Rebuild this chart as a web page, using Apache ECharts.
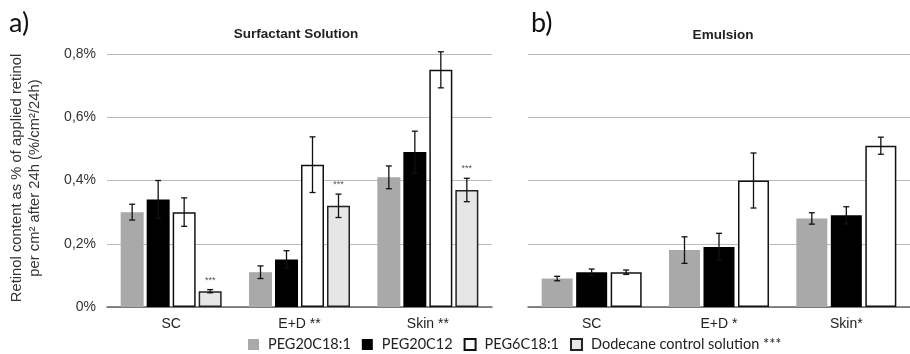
<!DOCTYPE html>
<html><head><meta charset="utf-8">
<script src="https://cdn.jsdelivr.net/npm/echarts@6/dist/echarts.min.js"></script>
<style>html,body{margin:0;padding:0;background:#fff}#chart{width:910px;height:354px}</style>
</head><body><div id="chart"></div>
<script>
// Categories for each panel
const solutionCategories = ['SC', 'E+D **', 'Skin **'];
const emulsionCategories = ['SC', 'E+D *', 'Skin*'];
const seriesNames = ['PEG20C18:1', 'PEG20C12', 'PEG6C18:1', 'Dodecane control solution ***'];

// a) Surfactant solution: retinol %/cm²/24h, mean and error
const solPEG20C181 = [0.30, 0.11, 0.41];
const solPEG20C181Err = [0.025, 0.02, 0.036];
const solPEG20C12 = [0.34, 0.15, 0.49];
const solPEG20C12Err = [0.06, 0.028, 0.066];
const solPEG6C181 = [0.30, 0.45, 0.75];
const solPEG6C181Err = [0.045, 0.088, 0.057];
const solDodecane = [0.05, 0.32, 0.37];
const solDodecaneErr = [0.005, 0.037, 0.037];
const solDodecaneSig = ['***', '***', '***'];

// b) Emulsion
const emuPEG20C181 = [0.09, 0.18, 0.28];
const emuPEG20C181Err = [0.007, 0.042, 0.018];
const emuPEG20C12 = [0.11, 0.19, 0.29];
const emuPEG20C12Err = [0.01, 0.043, 0.027];
const emuPEG6C181 = [0.11, 0.40, 0.51];
const emuPEG6C181Err = [0.007, 0.087, 0.027];

// Y tick labels (decimal comma)
const yTickLabels = ['0%', '0,2%', '0,4%', '0,6%', '0,8%'];

const styles = [
  { color: '#a9a9a9' },
  { color: '#000000' },
  { color: '#ffffff', borderColor: '#111', borderWidth: 1.5 },
  { color: '#e6e6e6', borderColor: '#222', borderWidth: 1.5 }
];

const LEFT_BAR = 23, LEFT_GAP = 3;
const RIGHT_BAR = 31, RIGHT_GAP = 3.5;

function barSeries(name, data, idx, grid, bw, gap) {
  return {
    name, type: 'bar', xAxisIndex: grid, yAxisIndex: grid, data,
    barWidth: bw, barGap: (gap / bw * 100) + '%',
    itemStyle: styles[idx], emphasis: { disabled: true }
  };
}

// Error whiskers drawn over the matching bar slot in each group
function errorBars(grid, values, errs, slot, count, bw, gap, marks) {
  return {
    type: 'custom', xAxisIndex: grid, yAxisIndex: grid, z: 10, silent: true,
    encode: { x: 0, y: [1, 2] },
    data: values.map((v, i) => [i, v - errs[i], v + errs[i]]),
    renderItem(params, api) {
      const i = api.value(0);
      const lo = api.coord([i, api.value(1)]);
      const hi = api.coord([i, api.value(2)]);
      const groupW = count * bw + (count - 1) * gap;
      const x = lo[0] - groupW / 2 + slot * (bw + gap) + bw / 2;
      const cap = 3;
      const st = { stroke: '#111', lineWidth: 1.3 };
      const children = [
        { type: 'line', shape: { x1: x, y1: lo[1], x2: x, y2: hi[1] }, style: st },
        { type: 'line', shape: { x1: x - cap, y1: lo[1], x2: x + cap, y2: lo[1] }, style: st },
        { type: 'line', shape: { x1: x - cap, y1: hi[1], x2: x + cap, y2: hi[1] }, style: st }
      ];
      if (marks) {
        children.push({ type: 'text', x: x, y: hi[1] - 5,
          style: { text: marks[i], align: 'center', verticalAlign: 'bottom', fill: '#555', fontSize: 9, fontFamily: 'Liberation Sans' } });
      }
      return { type: 'group', children };
    }
  };
}

function xAxis(grid, cats) {
  return {
    type: 'category', gridIndex: grid, data: cats,
    axisTick: { show: false },
    axisLine: { lineStyle: { color: '#666', width: 1.5 } },
    axisLabel: { color: '#222', fontSize: 14, fontFamily: 'Liberation Sans', margin: 10 }
  };
}
function yAxis(grid, showLabels) {
  return {
    type: 'value', gridIndex: grid, min: 0, max: 0.8, interval: 0.2,
    axisLine: { show: false }, axisTick: { show: false },
    splitLine: { lineStyle: { color: '#bbb', width: 1.2 } },
    axisLabel: {
      show: showLabels, color: '#333', fontSize: 14, fontFamily: 'Liberation Sans', margin: 11,
      formatter: v => yTickLabels[Math.round(v / 0.2)]
    }
  };
}

const chart = echarts.init(document.getElementById('chart'), null, { renderer: 'canvas' });
chart.setOption({
  animation: false,
  backgroundColor: '#fff',
  grid: [
    { left: 107, top: 54, width: 385, height: 253 },
    { left: 528, top: 54, width: 382, height: 253 }
  ],
  xAxis: [xAxis(0, solutionCategories), xAxis(1, emulsionCategories)],
  yAxis: [yAxis(0, true), yAxis(1, false)],
  legend: {
    data: seriesNames, left: 248, top: 337, padding: 0, itemWidth: 11, itemHeight: 11, itemGap: 11,
    icon: 'rect', selectedMode: false,
    textStyle: { color: '#222', fontSize: 14.5, fontFamily: 'Lato', padding: [0, 0, 0, 4] }
  },
  graphic: [
    { type: 'text', left: 9, top: 10, style: { text: 'a)', fontSize: 27, fontFamily: 'Lato', fill: '#111' } },
    { type: 'text', left: 531, top: 10, style: { text: 'b)', fontSize: 27, fontFamily: 'Lato', fill: '#111' } },
    { type: 'text', x: 296, y: 34, style: { text: 'Surfactant Solution', align: 'center', verticalAlign: 'middle', fontSize: 13.5, fontWeight: 'bold', fontFamily: 'Liberation Sans', fill: '#222' } },
    { type: 'text', x: 723, y: 35, style: { text: 'Emulsion', align: 'center', verticalAlign: 'middle', fontSize: 13.5, fontWeight: 'bold', fontFamily: 'Liberation Sans', fill: '#222' } },
    { type: 'text', x: 26, y: 178, rotation: Math.PI / 2,
      style: { text: 'Retinol content as % of applied retinol\nper cm² after 24h (%/cm²/24h)', align: 'center', verticalAlign: 'middle', lineHeight: 18, fontSize: 14.8, fontFamily: 'Liberation Sans', fill: '#333' } }
  ],
  series: [
    barSeries(seriesNames[0], solPEG20C181, 0, 0, LEFT_BAR, LEFT_GAP),
    barSeries(seriesNames[1], solPEG20C12, 1, 0, LEFT_BAR, LEFT_GAP),
    barSeries(seriesNames[2], solPEG6C181, 2, 0, LEFT_BAR, LEFT_GAP),
    barSeries(seriesNames[3], solDodecane, 3, 0, LEFT_BAR, LEFT_GAP),
    barSeries(seriesNames[0], emuPEG20C181, 0, 1, RIGHT_BAR, RIGHT_GAP),
    barSeries(seriesNames[1], emuPEG20C12, 1, 1, RIGHT_BAR, RIGHT_GAP),
    barSeries(seriesNames[2], emuPEG6C181, 2, 1, RIGHT_BAR, RIGHT_GAP),
    errorBars(0, solPEG20C181, solPEG20C181Err, 0, 4, LEFT_BAR, LEFT_GAP),
    errorBars(0, solPEG20C12, solPEG20C12Err, 1, 4, LEFT_BAR, LEFT_GAP),
    errorBars(0, solPEG6C181, solPEG6C181Err, 2, 4, LEFT_BAR, LEFT_GAP),
    errorBars(0, solDodecane, solDodecaneErr, 3, 4, LEFT_BAR, LEFT_GAP, solDodecaneSig),
    errorBars(1, emuPEG20C181, emuPEG20C181Err, 0, 3, RIGHT_BAR, RIGHT_GAP),
    errorBars(1, emuPEG20C12, emuPEG20C12Err, 1, 3, RIGHT_BAR, RIGHT_GAP),
    errorBars(1, emuPEG6C181, emuPEG6C181Err, 2, 3, RIGHT_BAR, RIGHT_GAP)
  ]
});
</script>
</body></html>
